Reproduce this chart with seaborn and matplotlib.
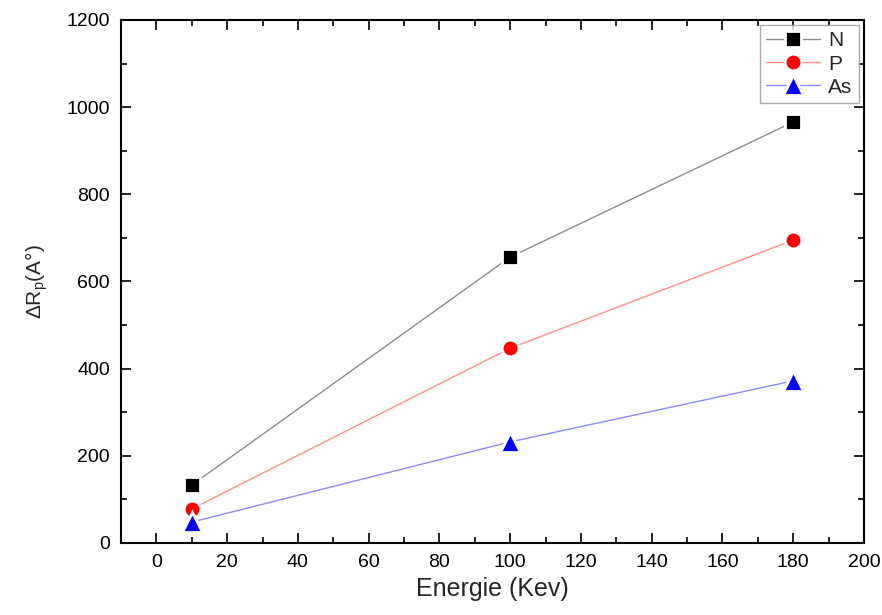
import matplotlib
matplotlib.use("Agg")
import numpy as np
import pandas as pd
import matplotlib.pyplot as plt
import seaborn as sns
from matplotlib.ticker import MultipleLocator

# ─── Data ────────────────────────────────────────────────────────────────────
energie = [10, 100, 180]
rp_n    = [133, 656, 966]
rp_p    = [78, 447, 695]
rp_as   = [48, 232, 372]
ions    = ["N", "P", "As"]

sns.set_theme(style="ticks")
plt.rcParams['font.family'] = ['Liberation Sans', 'DejaVu Sans']
plt.rcParams['mathtext.fontset'] = 'custom'
plt.rcParams['mathtext.rm'] = 'Liberation Sans'
plt.rcParams['mathtext.it'] = 'Liberation Sans:italic'

df = pd.DataFrame({
    "Energie": energie * 3,
    "Rp": rp_n + rp_p + rp_as,
    "ion": [i for i in ions for _ in energie],
})

fig = plt.figure(figsize=(8.82, 6.15), dpi=100)
ax = fig.add_axes([0.1372, 0.1171, 0.8424, 0.8504])

# (marker color, line color, marker, size)
styles = {"N":  ("black", "#8c8c8c", "s", 11),
          "P":  ("red",   "#ff8c8c", "o", 12),
          "As": ("blue",  "#8c8cff", "^", 14.5)}
for ion in ions:
    mcol, lcol, mk, ms = styles[ion]
    sub = df[df.ion == ion]
    sns.lineplot(data=sub, x="Energie", y="Rp", ax=ax, color=lcol,
                 linewidth=1.0, marker=mk, markersize=ms,
                 markerfacecolor=mcol, markeredgecolor="white",
                 markeredgewidth=2, label=ion)

ax.set_xlim(-10, 200)
ax.set_ylim(0, 1200)
ax.xaxis.set_major_locator(MultipleLocator(20))
ax.xaxis.set_minor_locator(MultipleLocator(10))
ax.yaxis.set_major_locator(MultipleLocator(200))
ax.yaxis.set_minor_locator(MultipleLocator(100))
ax.tick_params(which="both", direction="in", top=True, right=True,
               labelsize=14, colors="black", pad=8)
ax.tick_params(which="major", length=7, width=1.2)
ax.tick_params(which="minor", length=4, width=1.2)
for sp in ax.spines.values():
    sp.set_linewidth(1.5)
    sp.set_color("black")

ax.set_xlabel("Energie (Kev)", fontsize=18, labelpad=4)
ax.set_ylabel(r"$\Delta$R$_\mathrm{p}$(A°)", fontsize=15, labelpad=12)

leg = ax.legend(loc="upper right", fontsize=15, frameon=True, fancybox=False,
                edgecolor="#999999", handlelength=2.6, borderaxespad=0.25,
                labelspacing=0.2, handletextpad=0.4, borderpad=0.3)
leg.get_frame().set_linewidth(1)

fig.savefig("out.png", dpi=100)
